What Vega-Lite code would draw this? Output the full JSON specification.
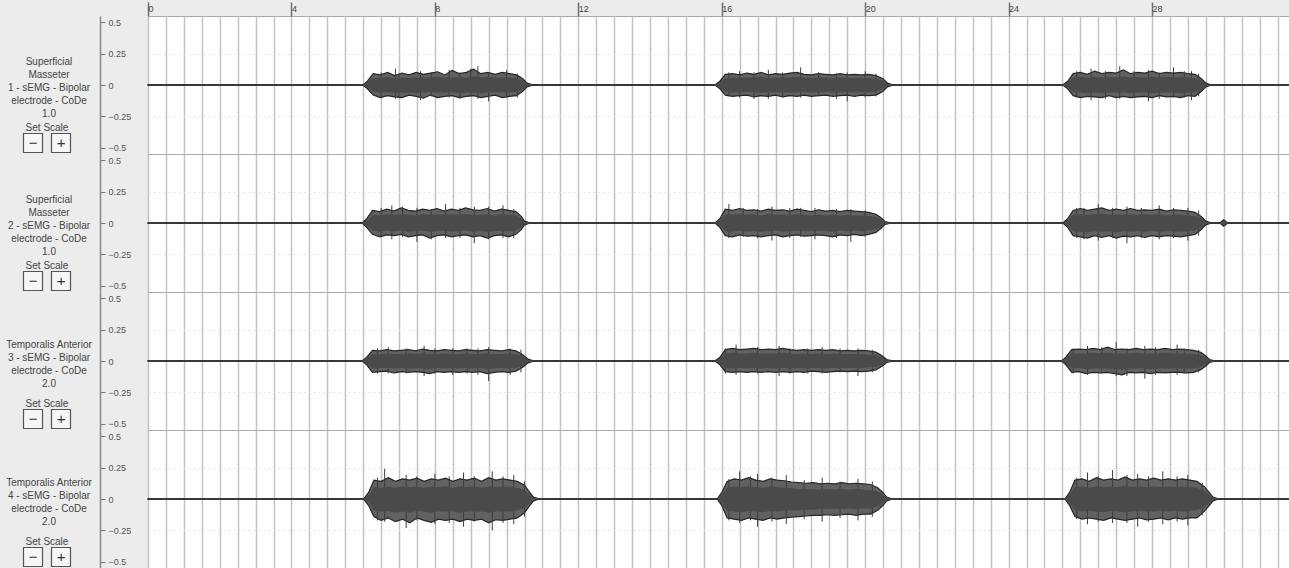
{
"$schema": "https://vega.github.io/schema/vega-lite/v6.json",
"background": "#ececec",
"padding": {"left": 0, "top": 0, "right": 0, "bottom": 0},
"config": {"font": "Liberation Sans", "view": {"stroke": "#a9a9a9", "strokeWidth": 1}},
"datasets": {
"lab": [
{"c":1,"label":"Superficial\nMasseter\n1 - sEMG - Bipolar\nelectrode - CoDe\n1.0"},
{"c":2,"label":"Superficial\nMasseter\n2 - sEMG - Bipolar\nelectrode - CoDe\n1.0"},
{"c":3,"label":"Temporalis Anterior\n3 - sEMG - Bipolar\nelectrode - CoDe\n2.0"},
{"c":4,"label":"Temporalis Anterior\n4 - sEMG - Bipolar\nelectrode - CoDe\n2.0"}
],
"spk": [
{"c":1,"t":6.9,"y":0.13,"y2":-0.11},{"c":1,"t":7.6,"y":0.11,"y2":-0.12},{"c":1,"t":8.4,"y":0.12,"y2":-0.1},{"c":1,"t":9.2,"y":0.15,"y2":-0.11},{"c":1,"t":9.5,"y":0.1,"y2":-0.13},{"c":1,"t":10.0,"y":0.12,"y2":-0.1},
{"c":1,"t":6.5,"y":0.1,"y2":-0.09},{"c":1,"t":7.0,"y":0.09,"y2":-0.1},{"c":1,"t":7.9,"y":0.1,"y2":-0.09},{"c":1,"t":8.7,"y":0.1,"y2":-0.11},{"c":1,"t":9.0,"y":0.13,"y2":-0.09},{"c":1,"t":10.3,"y":0.09,"y2":-0.1},
{"c":1,"t":16.5,"y":0.11,"y2":-0.1},{"c":1,"t":17.3,"y":0.12,"y2":-0.11},{"c":1,"t":18.2,"y":0.14,"y2":-0.1},{"c":1,"t":19.5,"y":0.1,"y2":-0.13},{"c":1,"t":20.0,"y":0.11,"y2":-0.1},
{"c":1,"t":16.2,"y":0.1,"y2":-0.09},{"c":1,"t":16.9,"y":0.1,"y2":-0.11},{"c":1,"t":17.7,"y":0.1,"y2":-0.1},{"c":1,"t":18.7,"y":0.1,"y2":-0.09},{"c":1,"t":19.2,"y":0.09,"y2":-0.11},{"c":1,"t":20.3,"y":0.09,"y2":-0.09},
{"c":1,"t":26.3,"y":0.13,"y2":-0.12},{"c":1,"t":27.1,"y":0.15,"y2":-0.11},{"c":1,"t":27.9,"y":0.12,"y2":-0.13},{"c":1,"t":28.6,"y":0.14,"y2":-0.1},{"c":1,"t":29.1,"y":0.11,"y2":-0.12},
{"c":1,"t":25.9,"y":0.11,"y2":-0.1},{"c":1,"t":26.7,"y":0.11,"y2":-0.11},{"c":1,"t":27.5,"y":0.11,"y2":-0.1},{"c":1,"t":28.2,"y":0.1,"y2":-0.11},{"c":1,"t":28.9,"y":0.11,"y2":-0.1},{"c":1,"t":29.3,"y":0.09,"y2":-0.09},
{"c":2,"t":6.8,"y":0.14,"y2":-0.13},{"c":2,"t":7.5,"y":0.12,"y2":-0.15},{"c":2,"t":8.3,"y":0.15,"y2":-0.12},{"c":2,"t":9.1,"y":0.13,"y2":-0.16},{"c":2,"t":9.9,"y":0.14,"y2":-0.12},
{"c":2,"t":6.5,"y":0.12,"y2":-0.11},{"c":2,"t":7.1,"y":0.13,"y2":-0.11},{"c":2,"t":7.9,"y":0.11,"y2":-0.13},{"c":2,"t":8.7,"y":0.12,"y2":-0.12},{"c":2,"t":9.5,"y":0.13,"y2":-0.13},{"c":2,"t":10.2,"y":0.11,"y2":-0.12},
{"c":2,"t":16.2,"y":0.15,"y2":-0.12},{"c":2,"t":17.4,"y":0.13,"y2":-0.14},{"c":2,"t":18.6,"y":0.12,"y2":-0.13},{"c":2,"t":19.6,"y":0.11,"y2":-0.15},
{"c":2,"t":16.6,"y":0.12,"y2":-0.11},{"c":2,"t":17.0,"y":0.11,"y2":-0.12},{"c":2,"t":17.9,"y":0.12,"y2":-0.12},{"c":2,"t":18.2,"y":0.12,"y2":-0.11},{"c":2,"t":19.2,"y":0.11,"y2":-0.12},{"c":2,"t":20.0,"y":0.1,"y2":-0.11},
{"c":2,"t":26.5,"y":0.15,"y2":-0.14},{"c":2,"t":27.3,"y":0.13,"y2":-0.16},{"c":2,"t":28.2,"y":0.14,"y2":-0.13},{"c":2,"t":29.0,"y":0.12,"y2":-0.14},
{"c":2,"t":25.9,"y":0.12,"y2":-0.12},{"c":2,"t":26.1,"y":0.12,"y2":-0.13},{"c":2,"t":26.9,"y":0.12,"y2":-0.12},{"c":2,"t":27.7,"y":0.12,"y2":-0.12},{"c":2,"t":28.6,"y":0.12,"y2":-0.12},{"c":2,"t":29.3,"y":0.1,"y2":-0.1},
{"c":3,"t":6.7,"y":0.11,"y2":-0.1},{"c":3,"t":7.7,"y":0.12,"y2":-0.12},{"c":3,"t":8.5,"y":0.1,"y2":-0.11},{"c":3,"t":9.5,"y":0.11,"y2":-0.16},{"c":3,"t":10.1,"y":0.1,"y2":-0.11},
{"c":3,"t":6.4,"y":0.1,"y2":-0.1},{"c":3,"t":7.2,"y":0.1,"y2":-0.1},{"c":3,"t":8.0,"y":0.1,"y2":-0.1},{"c":3,"t":8.9,"y":0.1,"y2":-0.1},{"c":3,"t":9.2,"y":0.1,"y2":-0.11},{"c":3,"t":10.4,"y":0.09,"y2":-0.09},
{"c":3,"t":16.4,"y":0.13,"y2":-0.11},{"c":3,"t":17.6,"y":0.12,"y2":-0.12},{"c":3,"t":18.8,"y":0.11,"y2":-0.1},{"c":3,"t":19.8,"y":0.1,"y2":-0.12},
{"c":3,"t":16.1,"y":0.1,"y2":-0.1},{"c":3,"t":17.0,"y":0.11,"y2":-0.1},{"c":3,"t":17.9,"y":0.1,"y2":-0.1},{"c":3,"t":18.4,"y":0.1,"y2":-0.1},{"c":3,"t":19.3,"y":0.1,"y2":-0.09},{"c":3,"t":20.2,"y":0.09,"y2":-0.09},
{"c":3,"t":26.2,"y":0.12,"y2":-0.11},{"c":3,"t":27.0,"y":0.15,"y2":-0.12},{"c":3,"t":27.8,"y":0.12,"y2":-0.14},{"c":3,"t":28.7,"y":0.13,"y2":-0.11},
{"c":3,"t":25.8,"y":0.1,"y2":-0.1},{"c":3,"t":26.6,"y":0.11,"y2":-0.1},{"c":3,"t":27.3,"y":0.1,"y2":-0.12},{"c":3,"t":28.1,"y":0.11,"y2":-0.11},{"c":3,"t":28.9,"y":0.1,"y2":-0.1},{"c":3,"t":29.3,"y":0.09,"y2":-0.09},
{"c":4,"t":6.6,"y":0.24,"y2":-0.18},{"c":4,"t":7.2,"y":0.19,"y2":-0.23},{"c":4,"t":8.0,"y":0.2,"y2":-0.2},{"c":4,"t":8.8,"y":0.21,"y2":-0.22},{"c":4,"t":9.6,"y":0.22,"y2":-0.25},{"c":4,"t":10.2,"y":0.19,"y2":-0.2},
{"c":4,"t":6.4,"y":0.17,"y2":-0.17},{"c":4,"t":7.5,"y":0.18,"y2":-0.17},{"c":4,"t":8.4,"y":0.18,"y2":-0.19},{"c":4,"t":9.1,"y":0.18,"y2":-0.18},{"c":4,"t":9.9,"y":0.18,"y2":-0.19},{"c":4,"t":10.5,"y":0.14,"y2":-0.14},
{"c":4,"t":16.5,"y":0.22,"y2":-0.19},{"c":4,"t":17.0,"y":0.2,"y2":-0.22},{"c":4,"t":17.8,"y":0.19,"y2":-0.2},{"c":4,"t":18.8,"y":0.17,"y2":-0.18},{"c":4,"t":19.8,"y":0.16,"y2":-0.17},
{"c":4,"t":16.2,"y":0.16,"y2":-0.17},{"c":4,"t":16.8,"y":0.18,"y2":-0.17},{"c":4,"t":17.4,"y":0.17,"y2":-0.18},{"c":4,"t":18.3,"y":0.15,"y2":-0.16},{"c":4,"t":19.3,"y":0.14,"y2":-0.15},{"c":4,"t":20.2,"y":0.14,"y2":-0.14},
{"c":4,"t":26.2,"y":0.21,"y2":-0.2},{"c":4,"t":26.9,"y":0.23,"y2":-0.19},{"c":4,"t":27.6,"y":0.2,"y2":-0.22},{"c":4,"t":28.3,"y":0.22,"y2":-0.2},{"c":4,"t":29.0,"y":0.19,"y2":-0.21},
{"c":4,"t":25.9,"y":0.17,"y2":-0.16},{"c":4,"t":26.5,"y":0.18,"y2":-0.18},{"c":4,"t":27.3,"y":0.19,"y2":-0.19},{"c":4,"t":27.9,"y":0.18,"y2":-0.18},{"c":4,"t":28.7,"y":0.18,"y2":-0.18},{"c":4,"t":29.4,"y":0.13,"y2":-0.13}
],
"sig": [
{"c":1,"t":0,"u":0.003,"l":-0.003,"a":0.003,"b":-0.003},
{"c":1,"t":6.0,"u":0.003,"l":-0.003,"a":0.003,"b":-0.003},
{"c":1,"t":6.12,"u":0.03,"l":-0.03,"a":0.02,"b":-0.02},
{"c":1,"t":6.28,"u":0.09,"l":-0.08,"a":0.055,"b":-0.05},
{"c":1,"t":6.48,"u":0.08,"l":-0.1,"a":0.06,"b":-0.06},
{"c":1,"t":6.68,"u":0.1,"l":-0.085,"a":0.065,"b":-0.055},
{"c":1,"t":6.88,"u":0.075,"l":-0.095,"a":0.05,"b":-0.065},
{"c":1,"t":7.08,"u":0.095,"l":-0.1,"a":0.06,"b":-0.06},
{"c":1,"t":7.28,"u":0.08,"l":-0.08,"a":0.055,"b":-0.06},
{"c":1,"t":7.48,"u":0.1,"l":-0.09,"a":0.06,"b":-0.065},
{"c":1,"t":7.68,"u":0.085,"l":-0.105,"a":0.06,"b":-0.06},
{"c":1,"t":7.88,"u":0.095,"l":-0.08,"a":0.06,"b":-0.055},
{"c":1,"t":8.08,"u":0.105,"l":-0.1,"a":0.065,"b":-0.06},
{"c":1,"t":8.28,"u":0.08,"l":-0.09,"a":0.06,"b":-0.06},
{"c":1,"t":8.48,"u":0.115,"l":-0.085,"a":0.06,"b":-0.055},
{"c":1,"t":8.68,"u":0.09,"l":-0.1,"a":0.065,"b":-0.065},
{"c":1,"t":8.88,"u":0.1,"l":-0.09,"a":0.06,"b":-0.06},
{"c":1,"t":9.08,"u":0.125,"l":-0.085,"a":0.07,"b":-0.06},
{"c":1,"t":9.28,"u":0.09,"l":-0.1,"a":0.06,"b":-0.065},
{"c":1,"t":9.48,"u":0.1,"l":-0.09,"a":0.065,"b":-0.06},
{"c":1,"t":9.68,"u":0.085,"l":-0.08,"a":0.06,"b":-0.055},
{"c":1,"t":9.88,"u":0.1,"l":-0.1,"a":0.06,"b":-0.06},
{"c":1,"t":10.08,"u":0.09,"l":-0.09,"a":0.06,"b":-0.06},
{"c":1,"t":10.28,"u":0.08,"l":-0.085,"a":0.055,"b":-0.055},
{"c":1,"t":10.45,"u":0.05,"l":-0.05,"a":0.035,"b":-0.035},
{"c":1,"t":10.57,"u":0.015,"l":-0.015,"a":0.01,"b":-0.01},
{"c":1,"t":10.7,"u":0.003,"l":-0.003,"a":0.003,"b":-0.003},
{"c":1,"t":15.82,"u":0.003,"l":-0.003,"a":0.003,"b":-0.003},
{"c":1,"t":15.95,"u":0.03,"l":-0.03,"a":0.02,"b":-0.02},
{"c":1,"t":16.1,"u":0.085,"l":-0.08,"a":0.055,"b":-0.055},
{"c":1,"t":16.3,"u":0.09,"l":-0.09,"a":0.06,"b":-0.06},
{"c":1,"t":16.5,"u":0.08,"l":-0.085,"a":0.055,"b":-0.06},
{"c":1,"t":16.7,"u":0.095,"l":-0.08,"a":0.06,"b":-0.055},
{"c":1,"t":16.9,"u":0.085,"l":-0.095,"a":0.06,"b":-0.06},
{"c":1,"t":17.1,"u":0.1,"l":-0.085,"a":0.065,"b":-0.06},
{"c":1,"t":17.3,"u":0.08,"l":-0.09,"a":0.055,"b":-0.06},
{"c":1,"t":17.5,"u":0.09,"l":-0.08,"a":0.06,"b":-0.055},
{"c":1,"t":17.7,"u":0.085,"l":-0.095,"a":0.06,"b":-0.06},
{"c":1,"t":17.9,"u":0.095,"l":-0.085,"a":0.06,"b":-0.06},
{"c":1,"t":18.1,"u":0.1,"l":-0.09,"a":0.065,"b":-0.06},
{"c":1,"t":18.3,"u":0.085,"l":-0.08,"a":0.06,"b":-0.055},
{"c":1,"t":18.5,"u":0.08,"l":-0.09,"a":0.055,"b":-0.06},
{"c":1,"t":18.7,"u":0.09,"l":-0.085,"a":0.06,"b":-0.06},
{"c":1,"t":18.9,"u":0.085,"l":-0.08,"a":0.06,"b":-0.055},
{"c":1,"t":19.1,"u":0.08,"l":-0.09,"a":0.055,"b":-0.06},
{"c":1,"t":19.3,"u":0.09,"l":-0.085,"a":0.06,"b":-0.06},
{"c":1,"t":19.5,"u":0.08,"l":-0.08,"a":0.055,"b":-0.055},
{"c":1,"t":19.7,"u":0.085,"l":-0.09,"a":0.06,"b":-0.06},
{"c":1,"t":19.9,"u":0.08,"l":-0.08,"a":0.055,"b":-0.055},
{"c":1,"t":20.1,"u":0.085,"l":-0.085,"a":0.055,"b":-0.06},
{"c":1,"t":20.3,"u":0.075,"l":-0.08,"a":0.05,"b":-0.05},
{"c":1,"t":20.5,"u":0.05,"l":-0.05,"a":0.035,"b":-0.035},
{"c":1,"t":20.62,"u":0.015,"l":-0.015,"a":0.01,"b":-0.01},
{"c":1,"t":20.75,"u":0.003,"l":-0.003,"a":0.003,"b":-0.003},
{"c":1,"t":25.52,"u":0.003,"l":-0.003,"a":0.003,"b":-0.003},
{"c":1,"t":25.65,"u":0.03,"l":-0.03,"a":0.02,"b":-0.02},
{"c":1,"t":25.8,"u":0.09,"l":-0.085,"a":0.06,"b":-0.055},
{"c":1,"t":26.0,"u":0.1,"l":-0.1,"a":0.065,"b":-0.06},
{"c":1,"t":26.2,"u":0.085,"l":-0.09,"a":0.06,"b":-0.065},
{"c":1,"t":26.4,"u":0.11,"l":-0.095,"a":0.065,"b":-0.06},
{"c":1,"t":26.6,"u":0.09,"l":-0.1,"a":0.06,"b":-0.065},
{"c":1,"t":26.8,"u":0.1,"l":-0.085,"a":0.065,"b":-0.06},
{"c":1,"t":27.0,"u":0.095,"l":-0.1,"a":0.06,"b":-0.06},
{"c":1,"t":27.2,"u":0.12,"l":-0.09,"a":0.07,"b":-0.06},
{"c":1,"t":27.4,"u":0.09,"l":-0.1,"a":0.06,"b":-0.065},
{"c":1,"t":27.6,"u":0.1,"l":-0.095,"a":0.065,"b":-0.06},
{"c":1,"t":27.8,"u":0.095,"l":-0.09,"a":0.06,"b":-0.06},
{"c":1,"t":28.0,"u":0.11,"l":-0.1,"a":0.065,"b":-0.065},
{"c":1,"t":28.2,"u":0.09,"l":-0.085,"a":0.06,"b":-0.06},
{"c":1,"t":28.4,"u":0.1,"l":-0.095,"a":0.065,"b":-0.06},
{"c":1,"t":28.6,"u":0.095,"l":-0.09,"a":0.06,"b":-0.06},
{"c":1,"t":28.8,"u":0.1,"l":-0.1,"a":0.065,"b":-0.065},
{"c":1,"t":29.0,"u":0.09,"l":-0.085,"a":0.06,"b":-0.06},
{"c":1,"t":29.2,"u":0.085,"l":-0.09,"a":0.055,"b":-0.06},
{"c":1,"t":29.38,"u":0.05,"l":-0.05,"a":0.035,"b":-0.035},
{"c":1,"t":29.5,"u":0.015,"l":-0.015,"a":0.01,"b":-0.01},
{"c":1,"t":29.62,"u":0.003,"l":-0.003,"a":0.003,"b":-0.003},
{"c":1,"t":31.82,"u":0.003,"l":-0.003,"a":0.003,"b":-0.003},
{"c":2,"t":0,"u":0.003,"l":-0.003,"a":0.003,"b":-0.003},
{"c":2,"t":5.98,"u":0.003,"l":-0.003,"a":0.003,"b":-0.003},
{"c":2,"t":6.1,"u":0.035,"l":-0.035,"a":0.022,"b":-0.022},
{"c":2,"t":6.26,"u":0.1,"l":-0.09,"a":0.065,"b":-0.06},
{"c":2,"t":6.46,"u":0.09,"l":-0.11,"a":0.06,"b":-0.07},
{"c":2,"t":6.66,"u":0.11,"l":-0.095,"a":0.07,"b":-0.06},
{"c":2,"t":6.86,"u":0.095,"l":-0.1,"a":0.065,"b":-0.065},
{"c":2,"t":7.06,"u":0.12,"l":-0.09,"a":0.07,"b":-0.06},
{"c":2,"t":7.26,"u":0.1,"l":-0.11,"a":0.065,"b":-0.07},
{"c":2,"t":7.46,"u":0.095,"l":-0.1,"a":0.06,"b":-0.065},
{"c":2,"t":7.66,"u":0.11,"l":-0.095,"a":0.07,"b":-0.06},
{"c":2,"t":7.86,"u":0.1,"l":-0.12,"a":0.065,"b":-0.07},
{"c":2,"t":8.06,"u":0.115,"l":-0.1,"a":0.07,"b":-0.065},
{"c":2,"t":8.26,"u":0.095,"l":-0.095,"a":0.065,"b":-0.06},
{"c":2,"t":8.46,"u":0.11,"l":-0.11,"a":0.07,"b":-0.07},
{"c":2,"t":8.66,"u":0.1,"l":-0.1,"a":0.065,"b":-0.065},
{"c":2,"t":8.86,"u":0.12,"l":-0.095,"a":0.07,"b":-0.06},
{"c":2,"t":9.06,"u":0.105,"l":-0.11,"a":0.065,"b":-0.07},
{"c":2,"t":9.26,"u":0.1,"l":-0.1,"a":0.065,"b":-0.065},
{"c":2,"t":9.46,"u":0.115,"l":-0.12,"a":0.07,"b":-0.07},
{"c":2,"t":9.66,"u":0.095,"l":-0.1,"a":0.06,"b":-0.065},
{"c":2,"t":9.86,"u":0.11,"l":-0.095,"a":0.07,"b":-0.06},
{"c":2,"t":10.06,"u":0.1,"l":-0.11,"a":0.065,"b":-0.065},
{"c":2,"t":10.26,"u":0.09,"l":-0.09,"a":0.06,"b":-0.06},
{"c":2,"t":10.4,"u":0.055,"l":-0.055,"a":0.035,"b":-0.035},
{"c":2,"t":10.5,"u":0.015,"l":-0.015,"a":0.01,"b":-0.01},
{"c":2,"t":10.62,"u":0.003,"l":-0.003,"a":0.003,"b":-0.003},
{"c":2,"t":15.82,"u":0.003,"l":-0.003,"a":0.003,"b":-0.003},
{"c":2,"t":15.95,"u":0.035,"l":-0.035,"a":0.022,"b":-0.022},
{"c":2,"t":16.1,"u":0.11,"l":-0.1,"a":0.07,"b":-0.065},
{"c":2,"t":16.3,"u":0.1,"l":-0.11,"a":0.065,"b":-0.07},
{"c":2,"t":16.5,"u":0.115,"l":-0.095,"a":0.07,"b":-0.06},
{"c":2,"t":16.7,"u":0.1,"l":-0.105,"a":0.065,"b":-0.07},
{"c":2,"t":16.9,"u":0.105,"l":-0.1,"a":0.07,"b":-0.065},
{"c":2,"t":17.1,"u":0.095,"l":-0.11,"a":0.06,"b":-0.07},
{"c":2,"t":17.3,"u":0.11,"l":-0.1,"a":0.07,"b":-0.065},
{"c":2,"t":17.5,"u":0.1,"l":-0.095,"a":0.065,"b":-0.06},
{"c":2,"t":17.7,"u":0.105,"l":-0.11,"a":0.065,"b":-0.07},
{"c":2,"t":17.9,"u":0.095,"l":-0.1,"a":0.06,"b":-0.065},
{"c":2,"t":18.1,"u":0.11,"l":-0.095,"a":0.07,"b":-0.06},
{"c":2,"t":18.3,"u":0.1,"l":-0.105,"a":0.065,"b":-0.065},
{"c":2,"t":18.5,"u":0.09,"l":-0.1,"a":0.06,"b":-0.065},
{"c":2,"t":18.7,"u":0.105,"l":-0.095,"a":0.065,"b":-0.06},
{"c":2,"t":18.9,"u":0.095,"l":-0.1,"a":0.06,"b":-0.065},
{"c":2,"t":19.1,"u":0.1,"l":-0.11,"a":0.065,"b":-0.07},
{"c":2,"t":19.3,"u":0.09,"l":-0.095,"a":0.06,"b":-0.06},
{"c":2,"t":19.5,"u":0.1,"l":-0.1,"a":0.065,"b":-0.065},
{"c":2,"t":19.7,"u":0.095,"l":-0.09,"a":0.06,"b":-0.06},
{"c":2,"t":19.9,"u":0.09,"l":-0.1,"a":0.06,"b":-0.065},
{"c":2,"t":20.1,"u":0.085,"l":-0.09,"a":0.055,"b":-0.06},
{"c":2,"t":20.3,"u":0.07,"l":-0.075,"a":0.05,"b":-0.05},
{"c":2,"t":20.45,"u":0.04,"l":-0.04,"a":0.03,"b":-0.03},
{"c":2,"t":20.55,"u":0.012,"l":-0.012,"a":0.01,"b":-0.01},
{"c":2,"t":20.68,"u":0.003,"l":-0.003,"a":0.003,"b":-0.003},
{"c":2,"t":25.52,"u":0.003,"l":-0.003,"a":0.003,"b":-0.003},
{"c":2,"t":25.65,"u":0.035,"l":-0.035,"a":0.022,"b":-0.022},
{"c":2,"t":25.8,"u":0.1,"l":-0.1,"a":0.065,"b":-0.065},
{"c":2,"t":26.0,"u":0.115,"l":-0.11,"a":0.07,"b":-0.07},
{"c":2,"t":26.2,"u":0.1,"l":-0.12,"a":0.065,"b":-0.075},
{"c":2,"t":26.4,"u":0.11,"l":-0.1,"a":0.07,"b":-0.065},
{"c":2,"t":26.6,"u":0.12,"l":-0.115,"a":0.075,"b":-0.07},
{"c":2,"t":26.8,"u":0.1,"l":-0.1,"a":0.065,"b":-0.065},
{"c":2,"t":27.0,"u":0.11,"l":-0.12,"a":0.07,"b":-0.075},
{"c":2,"t":27.2,"u":0.1,"l":-0.105,"a":0.065,"b":-0.065},
{"c":2,"t":27.4,"u":0.115,"l":-0.11,"a":0.07,"b":-0.07},
{"c":2,"t":27.6,"u":0.1,"l":-0.1,"a":0.065,"b":-0.065},
{"c":2,"t":27.8,"u":0.105,"l":-0.115,"a":0.07,"b":-0.07},
{"c":2,"t":28.0,"u":0.1,"l":-0.1,"a":0.065,"b":-0.065},
{"c":2,"t":28.2,"u":0.11,"l":-0.11,"a":0.07,"b":-0.07},
{"c":2,"t":28.4,"u":0.095,"l":-0.1,"a":0.06,"b":-0.065},
{"c":2,"t":28.6,"u":0.105,"l":-0.105,"a":0.065,"b":-0.065},
{"c":2,"t":28.8,"u":0.1,"l":-0.11,"a":0.065,"b":-0.07},
{"c":2,"t":29.0,"u":0.095,"l":-0.1,"a":0.06,"b":-0.065},
{"c":2,"t":29.2,"u":0.085,"l":-0.09,"a":0.055,"b":-0.06},
{"c":2,"t":29.38,"u":0.05,"l":-0.05,"a":0.035,"b":-0.035},
{"c":2,"t":29.5,"u":0.015,"l":-0.015,"a":0.01,"b":-0.01},
{"c":2,"t":29.62,"u":0.003,"l":-0.003,"a":0.003,"b":-0.003},
{"c":2,"t":29.9,"u":0.003,"l":-0.003,"a":0.003,"b":-0.003},
{"c":2,"t":30.0,"u":0.025,"l":-0.025,"a":0.015,"b":-0.015},
{"c":2,"t":30.1,"u":0.003,"l":-0.003,"a":0.003,"b":-0.003},
{"c":2,"t":31.82,"u":0.003,"l":-0.003,"a":0.003,"b":-0.003},
{"c":3,"t":0,"u":0.003,"l":-0.003,"a":0.003,"b":-0.003},
{"c":3,"t":5.98,"u":0.003,"l":-0.003,"a":0.003,"b":-0.003},
{"c":3,"t":6.1,"u":0.03,"l":-0.03,"a":0.02,"b":-0.02},
{"c":3,"t":6.26,"u":0.085,"l":-0.09,"a":0.055,"b":-0.06},
{"c":3,"t":6.46,"u":0.08,"l":-0.085,"a":0.055,"b":-0.055},
{"c":3,"t":6.66,"u":0.09,"l":-0.08,"a":0.06,"b":-0.055},
{"c":3,"t":6.86,"u":0.08,"l":-0.095,"a":0.055,"b":-0.06},
{"c":3,"t":7.06,"u":0.085,"l":-0.085,"a":0.055,"b":-0.055},
{"c":3,"t":7.26,"u":0.09,"l":-0.09,"a":0.06,"b":-0.06},
{"c":3,"t":7.46,"u":0.08,"l":-0.085,"a":0.055,"b":-0.055},
{"c":3,"t":7.66,"u":0.095,"l":-0.09,"a":0.06,"b":-0.06},
{"c":3,"t":7.86,"u":0.085,"l":-0.1,"a":0.055,"b":-0.065},
{"c":3,"t":8.06,"u":0.08,"l":-0.085,"a":0.055,"b":-0.055},
{"c":3,"t":8.26,"u":0.09,"l":-0.09,"a":0.06,"b":-0.06},
{"c":3,"t":8.46,"u":0.085,"l":-0.085,"a":0.055,"b":-0.055},
{"c":3,"t":8.66,"u":0.08,"l":-0.09,"a":0.055,"b":-0.06},
{"c":3,"t":8.86,"u":0.09,"l":-0.085,"a":0.06,"b":-0.055},
{"c":3,"t":9.06,"u":0.085,"l":-0.09,"a":0.055,"b":-0.06},
{"c":3,"t":9.26,"u":0.08,"l":-0.085,"a":0.055,"b":-0.055},
{"c":3,"t":9.46,"u":0.09,"l":-0.1,"a":0.06,"b":-0.065},
{"c":3,"t":9.66,"u":0.085,"l":-0.09,"a":0.055,"b":-0.06},
{"c":3,"t":9.86,"u":0.08,"l":-0.085,"a":0.055,"b":-0.055},
{"c":3,"t":10.06,"u":0.09,"l":-0.09,"a":0.06,"b":-0.06},
{"c":3,"t":10.26,"u":0.08,"l":-0.08,"a":0.055,"b":-0.055},
{"c":3,"t":10.45,"u":0.05,"l":-0.05,"a":0.035,"b":-0.035},
{"c":3,"t":10.6,"u":0.015,"l":-0.015,"a":0.01,"b":-0.01},
{"c":3,"t":10.72,"u":0.003,"l":-0.003,"a":0.003,"b":-0.003},
{"c":3,"t":15.82,"u":0.003,"l":-0.003,"a":0.003,"b":-0.003},
{"c":3,"t":15.95,"u":0.03,"l":-0.03,"a":0.02,"b":-0.02},
{"c":3,"t":16.1,"u":0.09,"l":-0.085,"a":0.06,"b":-0.055},
{"c":3,"t":16.3,"u":0.1,"l":-0.09,"a":0.065,"b":-0.06},
{"c":3,"t":16.5,"u":0.09,"l":-0.085,"a":0.06,"b":-0.055},
{"c":3,"t":16.7,"u":0.095,"l":-0.09,"a":0.06,"b":-0.06},
{"c":3,"t":16.9,"u":0.1,"l":-0.085,"a":0.065,"b":-0.055},
{"c":3,"t":17.1,"u":0.09,"l":-0.09,"a":0.06,"b":-0.06},
{"c":3,"t":17.3,"u":0.095,"l":-0.085,"a":0.06,"b":-0.055},
{"c":3,"t":17.5,"u":0.09,"l":-0.09,"a":0.06,"b":-0.06},
{"c":3,"t":17.7,"u":0.1,"l":-0.085,"a":0.065,"b":-0.055},
{"c":3,"t":17.9,"u":0.09,"l":-0.09,"a":0.06,"b":-0.06},
{"c":3,"t":18.1,"u":0.085,"l":-0.085,"a":0.055,"b":-0.055},
{"c":3,"t":18.3,"u":0.09,"l":-0.09,"a":0.06,"b":-0.06},
{"c":3,"t":18.5,"u":0.085,"l":-0.08,"a":0.055,"b":-0.055},
{"c":3,"t":18.7,"u":0.09,"l":-0.085,"a":0.06,"b":-0.055},
{"c":3,"t":18.9,"u":0.085,"l":-0.09,"a":0.055,"b":-0.06},
{"c":3,"t":19.1,"u":0.09,"l":-0.085,"a":0.06,"b":-0.055},
{"c":3,"t":19.3,"u":0.08,"l":-0.08,"a":0.055,"b":-0.055},
{"c":3,"t":19.5,"u":0.085,"l":-0.085,"a":0.055,"b":-0.055},
{"c":3,"t":19.7,"u":0.08,"l":-0.08,"a":0.055,"b":-0.055},
{"c":3,"t":19.9,"u":0.085,"l":-0.085,"a":0.055,"b":-0.055},
{"c":3,"t":20.1,"u":0.08,"l":-0.08,"a":0.05,"b":-0.05},
{"c":3,"t":20.3,"u":0.07,"l":-0.07,"a":0.045,"b":-0.045},
{"c":3,"t":20.48,"u":0.04,"l":-0.04,"a":0.03,"b":-0.03},
{"c":3,"t":20.6,"u":0.012,"l":-0.012,"a":0.01,"b":-0.01},
{"c":3,"t":20.72,"u":0.003,"l":-0.003,"a":0.003,"b":-0.003},
{"c":3,"t":25.48,"u":0.003,"l":-0.003,"a":0.003,"b":-0.003},
{"c":3,"t":25.6,"u":0.03,"l":-0.03,"a":0.02,"b":-0.02},
{"c":3,"t":25.76,"u":0.09,"l":-0.09,"a":0.06,"b":-0.06},
{"c":3,"t":25.96,"u":0.095,"l":-0.085,"a":0.06,"b":-0.055},
{"c":3,"t":26.16,"u":0.09,"l":-0.1,"a":0.06,"b":-0.065},
{"c":3,"t":26.36,"u":0.1,"l":-0.09,"a":0.065,"b":-0.06},
{"c":3,"t":26.56,"u":0.09,"l":-0.095,"a":0.06,"b":-0.06},
{"c":3,"t":26.76,"u":0.11,"l":-0.09,"a":0.065,"b":-0.06},
{"c":3,"t":26.96,"u":0.09,"l":-0.1,"a":0.06,"b":-0.065},
{"c":3,"t":27.16,"u":0.095,"l":-0.11,"a":0.06,"b":-0.07},
{"c":3,"t":27.36,"u":0.09,"l":-0.09,"a":0.06,"b":-0.06},
{"c":3,"t":27.56,"u":0.1,"l":-0.095,"a":0.065,"b":-0.06},
{"c":3,"t":27.76,"u":0.09,"l":-0.09,"a":0.06,"b":-0.06},
{"c":3,"t":27.96,"u":0.095,"l":-0.1,"a":0.06,"b":-0.065},
{"c":3,"t":28.16,"u":0.09,"l":-0.09,"a":0.06,"b":-0.06},
{"c":3,"t":28.36,"u":0.1,"l":-0.095,"a":0.065,"b":-0.06},
{"c":3,"t":28.56,"u":0.09,"l":-0.09,"a":0.06,"b":-0.06},
{"c":3,"t":28.76,"u":0.095,"l":-0.09,"a":0.06,"b":-0.06},
{"c":3,"t":28.96,"u":0.09,"l":-0.095,"a":0.06,"b":-0.06},
{"c":3,"t":29.16,"u":0.085,"l":-0.09,"a":0.055,"b":-0.06},
{"c":3,"t":29.36,"u":0.07,"l":-0.07,"a":0.045,"b":-0.045},
{"c":3,"t":29.5,"u":0.04,"l":-0.04,"a":0.03,"b":-0.03},
{"c":3,"t":29.6,"u":0.012,"l":-0.012,"a":0.01,"b":-0.01},
{"c":3,"t":29.72,"u":0.003,"l":-0.003,"a":0.003,"b":-0.003},
{"c":3,"t":31.82,"u":0.003,"l":-0.003,"a":0.003,"b":-0.003},
{"c":4,"t":0,"u":0.003,"l":-0.003,"a":0.003,"b":-0.003},
{"c":4,"t":6.02,"u":0.003,"l":-0.003,"a":0.003,"b":-0.003},
{"c":4,"t":6.15,"u":0.05,"l":-0.05,"a":0.03,"b":-0.03},
{"c":4,"t":6.3,"u":0.15,"l":-0.14,"a":0.095,"b":-0.09},
{"c":4,"t":6.5,"u":0.14,"l":-0.17,"a":0.09,"b":-0.1},
{"c":4,"t":6.7,"u":0.17,"l":-0.15,"a":0.1,"b":-0.095},
{"c":4,"t":6.9,"u":0.14,"l":-0.18,"a":0.09,"b":-0.11},
{"c":4,"t":7.1,"u":0.16,"l":-0.16,"a":0.1,"b":-0.1},
{"c":4,"t":7.3,"u":0.15,"l":-0.19,"a":0.095,"b":-0.11},
{"c":4,"t":7.5,"u":0.165,"l":-0.15,"a":0.1,"b":-0.095},
{"c":4,"t":7.7,"u":0.14,"l":-0.17,"a":0.09,"b":-0.1},
{"c":4,"t":7.9,"u":0.16,"l":-0.185,"a":0.1,"b":-0.11},
{"c":4,"t":8.1,"u":0.15,"l":-0.16,"a":0.095,"b":-0.1},
{"c":4,"t":8.3,"u":0.165,"l":-0.17,"a":0.1,"b":-0.1},
{"c":4,"t":8.5,"u":0.14,"l":-0.16,"a":0.09,"b":-0.1},
{"c":4,"t":8.7,"u":0.16,"l":-0.18,"a":0.1,"b":-0.11},
{"c":4,"t":8.9,"u":0.15,"l":-0.16,"a":0.095,"b":-0.1},
{"c":4,"t":9.1,"u":0.165,"l":-0.17,"a":0.1,"b":-0.1},
{"c":4,"t":9.3,"u":0.14,"l":-0.16,"a":0.09,"b":-0.1},
{"c":4,"t":9.5,"u":0.17,"l":-0.19,"a":0.1,"b":-0.11},
{"c":4,"t":9.7,"u":0.15,"l":-0.165,"a":0.095,"b":-0.1},
{"c":4,"t":9.9,"u":0.16,"l":-0.17,"a":0.1,"b":-0.1},
{"c":4,"t":10.1,"u":0.15,"l":-0.16,"a":0.095,"b":-0.1},
{"c":4,"t":10.3,"u":0.14,"l":-0.15,"a":0.09,"b":-0.09},
{"c":4,"t":10.5,"u":0.11,"l":-0.11,"a":0.07,"b":-0.07},
{"c":4,"t":10.65,"u":0.05,"l":-0.05,"a":0.035,"b":-0.035},
{"c":4,"t":10.75,"u":0.015,"l":-0.015,"a":0.01,"b":-0.01},
{"c":4,"t":10.88,"u":0.003,"l":-0.003,"a":0.003,"b":-0.003},
{"c":4,"t":15.88,"u":0.003,"l":-0.003,"a":0.003,"b":-0.003},
{"c":4,"t":16.0,"u":0.05,"l":-0.05,"a":0.03,"b":-0.03},
{"c":4,"t":16.15,"u":0.14,"l":-0.15,"a":0.09,"b":-0.095},
{"c":4,"t":16.35,"u":0.16,"l":-0.16,"a":0.1,"b":-0.1},
{"c":4,"t":16.55,"u":0.15,"l":-0.17,"a":0.095,"b":-0.105},
{"c":4,"t":16.75,"u":0.17,"l":-0.15,"a":0.1,"b":-0.095},
{"c":4,"t":16.95,"u":0.15,"l":-0.16,"a":0.095,"b":-0.1},
{"c":4,"t":17.15,"u":0.14,"l":-0.17,"a":0.09,"b":-0.105},
{"c":4,"t":17.35,"u":0.16,"l":-0.15,"a":0.1,"b":-0.095},
{"c":4,"t":17.55,"u":0.15,"l":-0.16,"a":0.095,"b":-0.1},
{"c":4,"t":17.75,"u":0.145,"l":-0.15,"a":0.09,"b":-0.095},
{"c":4,"t":17.95,"u":0.135,"l":-0.145,"a":0.085,"b":-0.09},
{"c":4,"t":18.15,"u":0.13,"l":-0.14,"a":0.08,"b":-0.09},
{"c":4,"t":18.35,"u":0.125,"l":-0.135,"a":0.08,"b":-0.085},
{"c":4,"t":18.55,"u":0.13,"l":-0.13,"a":0.08,"b":-0.085},
{"c":4,"t":18.75,"u":0.12,"l":-0.13,"a":0.075,"b":-0.08},
{"c":4,"t":18.95,"u":0.125,"l":-0.125,"a":0.08,"b":-0.08},
{"c":4,"t":19.15,"u":0.12,"l":-0.13,"a":0.075,"b":-0.08},
{"c":4,"t":19.35,"u":0.13,"l":-0.125,"a":0.08,"b":-0.08},
{"c":4,"t":19.55,"u":0.12,"l":-0.12,"a":0.075,"b":-0.075},
{"c":4,"t":19.75,"u":0.125,"l":-0.13,"a":0.08,"b":-0.08},
{"c":4,"t":19.95,"u":0.12,"l":-0.12,"a":0.075,"b":-0.075},
{"c":4,"t":20.15,"u":0.115,"l":-0.12,"a":0.07,"b":-0.075},
{"c":4,"t":20.35,"u":0.09,"l":-0.09,"a":0.06,"b":-0.06},
{"c":4,"t":20.5,"u":0.05,"l":-0.05,"a":0.035,"b":-0.035},
{"c":4,"t":20.6,"u":0.015,"l":-0.015,"a":0.01,"b":-0.01},
{"c":4,"t":20.72,"u":0.003,"l":-0.003,"a":0.003,"b":-0.003},
{"c":4,"t":25.58,"u":0.003,"l":-0.003,"a":0.003,"b":-0.003},
{"c":4,"t":25.7,"u":0.05,"l":-0.05,"a":0.03,"b":-0.03},
{"c":4,"t":25.85,"u":0.15,"l":-0.14,"a":0.095,"b":-0.09},
{"c":4,"t":26.05,"u":0.16,"l":-0.16,"a":0.1,"b":-0.1},
{"c":4,"t":26.25,"u":0.14,"l":-0.15,"a":0.09,"b":-0.095},
{"c":4,"t":26.45,"u":0.17,"l":-0.16,"a":0.1,"b":-0.1},
{"c":4,"t":26.65,"u":0.15,"l":-0.17,"a":0.095,"b":-0.105},
{"c":4,"t":26.85,"u":0.16,"l":-0.15,"a":0.1,"b":-0.095},
{"c":4,"t":27.05,"u":0.15,"l":-0.16,"a":0.095,"b":-0.1},
{"c":4,"t":27.25,"u":0.175,"l":-0.17,"a":0.105,"b":-0.105},
{"c":4,"t":27.45,"u":0.15,"l":-0.16,"a":0.095,"b":-0.1},
{"c":4,"t":27.65,"u":0.16,"l":-0.15,"a":0.1,"b":-0.095},
{"c":4,"t":27.85,"u":0.15,"l":-0.165,"a":0.095,"b":-0.1},
{"c":4,"t":28.05,"u":0.165,"l":-0.16,"a":0.1,"b":-0.1},
{"c":4,"t":28.25,"u":0.15,"l":-0.15,"a":0.095,"b":-0.095},
{"c":4,"t":28.45,"u":0.16,"l":-0.165,"a":0.1,"b":-0.1},
{"c":4,"t":28.65,"u":0.15,"l":-0.15,"a":0.095,"b":-0.095},
{"c":4,"t":28.85,"u":0.16,"l":-0.16,"a":0.1,"b":-0.1},
{"c":4,"t":29.05,"u":0.15,"l":-0.15,"a":0.095,"b":-0.095},
{"c":4,"t":29.25,"u":0.14,"l":-0.15,"a":0.09,"b":-0.09},
{"c":4,"t":29.45,"u":0.1,"l":-0.1,"a":0.065,"b":-0.065},
{"c":4,"t":29.6,"u":0.05,"l":-0.05,"a":0.035,"b":-0.035},
{"c":4,"t":29.7,"u":0.015,"l":-0.015,"a":0.01,"b":-0.01},
{"c":4,"t":29.82,"u":0.003,"l":-0.003,"a":0.003,"b":-0.003},
{"c":4,"t":31.82,"u":0.003,"l":-0.003,"a":0.003,"b":-0.003}
]
},
"columns": 2,
"bounds": "flush",
"spacing": {"row": 0, "column": 48},
"concat": [
 {"width": 100, "height": 138, "data": {"name": "lab"}, "transform": [{"filter": "datum.c == 1"}],
  "layer": [
   {"mark": {"type": "text", "lineBreak": "\n", "fontSize": 10, "lineHeight": 13, "color": "#444", "align": "center", "baseline": "middle", "dx": -1, "dy": -23}, "encoding": {"text": {"field": "label"}}},
   {"mark": {"type": "text", "text": "Set Scale", "fontSize": 10, "color": "#444", "align": "center", "baseline": "middle", "dx": -3, "dy": 43}, "encoding": {}},
   {"mark": {"type": "point", "shape": "square", "size": 361, "filled": true, "fill": "#f6f6f6", "stroke": "#555", "strokeWidth": 1.2, "opacity": 1, "xOffset": -17, "yOffset": 58}, "encoding": {}},
   {"mark": {"type": "point", "shape": "square", "size": 361, "filled": true, "fill": "#f6f6f6", "stroke": "#555", "strokeWidth": 1.2, "opacity": 1, "xOffset": 11, "yOffset": 58}, "encoding": {}},
   {"mark": {"type": "text", "text": "−", "fontSize": 15, "color": "#333", "align": "center", "baseline": "middle", "dx": -17, "dy": 58}, "encoding": {}},
   {"mark": {"type": "text", "text": "+", "fontSize": 15, "color": "#333", "align": "center", "baseline": "middle", "dx": 11, "dy": 58}, "encoding": {}}
  ]},
 {"width": 1141, "height": 138, "view": {"fill": "white", "stroke": "#a9a9a9"},
  "layer": [
   {"data": {"name": "sig"}, "transform": [{"filter": "datum.c == 1"}], "mark": {"type": "area", "color": "#616161", "stroke": "#262626", "strokeWidth": 1.2},
    "encoding": {
     "x": {"field": "t", "type": "quantitative", "title": null, "scale": {"domain": [0, 31.82], "nice": false, "zero": false},
       "axis": {"orient": "top", "title": null, "tickCount": 200, "values": [0,0.5,1,1.5,2,2.5,3,3.5,4,4.5,5,5.5,6,6.5,7,7.5,8,8.5,9,9.5,10,10.5,11,11.5,12,12.5,13,13.5,14,14.5,15,15.5,16,16.5,17,17.5,18,18.5,19,19.5,20,20.5,21,21.5,22,22.5,23,23.5,24,24.5,25,25.5,26,26.5,27,27.5,28,28.5,29,29.5,30,30.5,31,31.5],
         "format": "~g", "grid": true, "gridColor": "#c2c2c2", "gridWidth": 1.5, "domain": false, "ticks": true, "tickSize": 14, "tickWidth": 1.5,
         "tickColor": {"condition": {"test": "datum.value % 4 == 0", "value": "#707070"}, "value": "transparent"},
         "labelExpr": "datum.value % 4 == 0 ? datum.label : ''", "labelAlign": "left", "labelBaseline": "middle", "labelPadding": -6, "labelDx": 3,
         "labelFontSize": 9, "labelColor": "#444", "labelFlush": false, "labelOverlap": false}},
     "y": {"field": "u", "type": "quantitative", "title": null, "scale": {"domain": [-0.548, 0.548], "nice": false, "zero": false},
       "axis": {"orient": "left", "offset": 48, "title": null, "tickCount": 20, "values": [-0.5, -0.25, 0, 0.25, 0.5], "format": "~g", "domain": true, "domainColor": "#8a8a8a", "domainWidth": 1.5,
         "ticks": true, "tickSize": -5, "tickColor": "#777", "labelAlign": "left", "labelBaseline": "middle", "labelPadding": -3, "labelFontSize": 9, "labelColor": "#555", "labelOverlap": false, "labelFlush": false,
         "grid": true, "gridColor": {"condition": {"test": "abs(datum.value) == 0.25", "value": "#e2e2e2"}, "value": "transparent"}, "gridDash": [2, 3]}},
     "y2": {"field": "l"}
    }},
   {"data": {"name": "spk"}, "transform": [{"filter": "datum.c == 1"}], "mark": {"type": "rule", "color": "#3c3c3c", "strokeWidth": 1},
    "encoding": {"x": {"field": "t", "type": "quantitative", "title": null}, "y": {"field": "y", "type": "quantitative", "title": null}, "y2": {"field": "y2"}}},
   {"data": {"name": "sig"}, "transform": [{"filter": "datum.c == 1"}], "mark": {"type": "area", "color": "#4a4a4a"},
    "encoding": {"x": {"field": "t", "type": "quantitative", "title": null}, "y": {"field": "a", "type": "quantitative", "title": null}, "y2": {"field": "b"}}}
  ]},
 {"width": 100, "height": 138, "data": {"name": "lab"}, "transform": [{"filter": "datum.c == 2"}],
  "layer": [
   {"mark": {"type": "text", "lineBreak": "\n", "fontSize": 10, "lineHeight": 13, "color": "#444", "align": "center", "baseline": "middle", "dx": -1, "dy": -23}, "encoding": {"text": {"field": "label"}}},
   {"mark": {"type": "text", "text": "Set Scale", "fontSize": 10, "color": "#444", "align": "center", "baseline": "middle", "dx": -3, "dy": 43}, "encoding": {}},
   {"mark": {"type": "point", "shape": "square", "size": 361, "filled": true, "fill": "#f6f6f6", "stroke": "#555", "strokeWidth": 1.2, "opacity": 1, "xOffset": -17, "yOffset": 58}, "encoding": {}},
   {"mark": {"type": "point", "shape": "square", "size": 361, "filled": true, "fill": "#f6f6f6", "stroke": "#555", "strokeWidth": 1.2, "opacity": 1, "xOffset": 11, "yOffset": 58}, "encoding": {}},
   {"mark": {"type": "text", "text": "−", "fontSize": 15, "color": "#333", "align": "center", "baseline": "middle", "dx": -17, "dy": 58}, "encoding": {}},
   {"mark": {"type": "text", "text": "+", "fontSize": 15, "color": "#333", "align": "center", "baseline": "middle", "dx": 11, "dy": 58}, "encoding": {}}
  ]},
 {"width": 1141, "height": 138, "view": {"fill": "white", "stroke": "#a9a9a9"},
  "layer": [
   {"data": {"name": "sig"}, "transform": [{"filter": "datum.c == 2"}], "mark": {"type": "area", "color": "#616161", "stroke": "#262626", "strokeWidth": 1.2},
    "encoding": {
     "x": {"field": "t", "type": "quantitative", "title": null, "scale": {"domain": [0, 31.82], "nice": false, "zero": false},
       "axis": {"orient": "top", "title": null, "tickCount": 200, "values": [0,0.5,1,1.5,2,2.5,3,3.5,4,4.5,5,5.5,6,6.5,7,7.5,8,8.5,9,9.5,10,10.5,11,11.5,12,12.5,13,13.5,14,14.5,15,15.5,16,16.5,17,17.5,18,18.5,19,19.5,20,20.5,21,21.5,22,22.5,23,23.5,24,24.5,25,25.5,26,26.5,27,27.5,28,28.5,29,29.5,30,30.5,31,31.5],
         "grid": true, "gridColor": "#c2c2c2", "gridWidth": 1.5, "domain": false, "ticks": false, "labels": false}},
     "y": {"field": "u", "type": "quantitative", "title": null, "scale": {"domain": [-0.548, 0.548], "nice": false, "zero": false},
       "axis": {"orient": "left", "offset": 48, "title": null, "tickCount": 20, "values": [-0.5, -0.25, 0, 0.25, 0.5], "format": "~g", "domain": true, "domainColor": "#8a8a8a", "domainWidth": 1.5,
         "ticks": true, "tickSize": -5, "tickColor": "#777", "labelAlign": "left", "labelBaseline": "middle", "labelPadding": -3, "labelFontSize": 9, "labelColor": "#555", "labelOverlap": false, "labelFlush": false,
         "grid": true, "gridColor": {"condition": {"test": "abs(datum.value) == 0.25", "value": "#e2e2e2"}, "value": "transparent"}, "gridDash": [2, 3]}},
     "y2": {"field": "l"}
    }},
   {"data": {"name": "spk"}, "transform": [{"filter": "datum.c == 2"}], "mark": {"type": "rule", "color": "#3c3c3c", "strokeWidth": 1},
    "encoding": {"x": {"field": "t", "type": "quantitative", "title": null}, "y": {"field": "y", "type": "quantitative", "title": null}, "y2": {"field": "y2"}}},
   {"data": {"name": "sig"}, "transform": [{"filter": "datum.c == 2"}], "mark": {"type": "area", "color": "#4a4a4a"},
    "encoding": {"x": {"field": "t", "type": "quantitative", "title": null}, "y": {"field": "a", "type": "quantitative", "title": null}, "y2": {"field": "b"}}}
  ]},
 {"width": 100, "height": 138, "data": {"name": "lab"}, "transform": [{"filter": "datum.c == 3"}],
  "layer": [
   {"mark": {"type": "text", "lineBreak": "\n", "fontSize": 10, "lineHeight": 13, "color": "#444", "align": "center", "baseline": "middle", "dx": -1, "dy": -16}, "encoding": {"text": {"field": "label"}}},
   {"mark": {"type": "text", "text": "Set Scale", "fontSize": 10, "color": "#444", "align": "center", "baseline": "middle", "dx": -3, "dy": 43}, "encoding": {}},
   {"mark": {"type": "point", "shape": "square", "size": 361, "filled": true, "fill": "#f6f6f6", "stroke": "#555", "strokeWidth": 1.2, "opacity": 1, "xOffset": -17, "yOffset": 58}, "encoding": {}},
   {"mark": {"type": "point", "shape": "square", "size": 361, "filled": true, "fill": "#f6f6f6", "stroke": "#555", "strokeWidth": 1.2, "opacity": 1, "xOffset": 11, "yOffset": 58}, "encoding": {}},
   {"mark": {"type": "text", "text": "−", "fontSize": 15, "color": "#333", "align": "center", "baseline": "middle", "dx": -17, "dy": 58}, "encoding": {}},
   {"mark": {"type": "text", "text": "+", "fontSize": 15, "color": "#333", "align": "center", "baseline": "middle", "dx": 11, "dy": 58}, "encoding": {}}
  ]},
 {"width": 1141, "height": 138, "view": {"fill": "white", "stroke": "#a9a9a9"},
  "layer": [
   {"data": {"name": "sig"}, "transform": [{"filter": "datum.c == 3"}], "mark": {"type": "area", "color": "#616161", "stroke": "#262626", "strokeWidth": 1.2},
    "encoding": {
     "x": {"field": "t", "type": "quantitative", "title": null, "scale": {"domain": [0, 31.82], "nice": false, "zero": false},
       "axis": {"orient": "top", "title": null, "tickCount": 200, "values": [0,0.5,1,1.5,2,2.5,3,3.5,4,4.5,5,5.5,6,6.5,7,7.5,8,8.5,9,9.5,10,10.5,11,11.5,12,12.5,13,13.5,14,14.5,15,15.5,16,16.5,17,17.5,18,18.5,19,19.5,20,20.5,21,21.5,22,22.5,23,23.5,24,24.5,25,25.5,26,26.5,27,27.5,28,28.5,29,29.5,30,30.5,31,31.5],
         "grid": true, "gridColor": "#c2c2c2", "gridWidth": 1.5, "domain": false, "ticks": false, "labels": false}},
     "y": {"field": "u", "type": "quantitative", "title": null, "scale": {"domain": [-0.548, 0.548], "nice": false, "zero": false},
       "axis": {"orient": "left", "offset": 48, "title": null, "tickCount": 20, "values": [-0.5, -0.25, 0, 0.25, 0.5], "format": "~g", "domain": true, "domainColor": "#8a8a8a", "domainWidth": 1.5,
         "ticks": true, "tickSize": -5, "tickColor": "#777", "labelAlign": "left", "labelBaseline": "middle", "labelPadding": -3, "labelFontSize": 9, "labelColor": "#555", "labelOverlap": false, "labelFlush": false,
         "grid": true, "gridColor": {"condition": {"test": "abs(datum.value) == 0.25", "value": "#e2e2e2"}, "value": "transparent"}, "gridDash": [2, 3]}},
     "y2": {"field": "l"}
    }},
   {"data": {"name": "spk"}, "transform": [{"filter": "datum.c == 3"}], "mark": {"type": "rule", "color": "#3c3c3c", "strokeWidth": 1},
    "encoding": {"x": {"field": "t", "type": "quantitative", "title": null}, "y": {"field": "y", "type": "quantitative", "title": null}, "y2": {"field": "y2"}}},
   {"data": {"name": "sig"}, "transform": [{"filter": "datum.c == 3"}], "mark": {"type": "area", "color": "#4a4a4a"},
    "encoding": {"x": {"field": "t", "type": "quantitative", "title": null}, "y": {"field": "a", "type": "quantitative", "title": null}, "y2": {"field": "b"}}}
  ]},
 {"width": 100, "height": 138, "data": {"name": "lab"}, "transform": [{"filter": "datum.c == 4"}],
  "layer": [
   {"mark": {"type": "text", "lineBreak": "\n", "fontSize": 10, "lineHeight": 13, "color": "#444", "align": "center", "baseline": "middle", "dx": -1, "dy": -16}, "encoding": {"text": {"field": "label"}}},
   {"mark": {"type": "text", "text": "Set Scale", "fontSize": 10, "color": "#444", "align": "center", "baseline": "middle", "dx": -3, "dy": 43}, "encoding": {}},
   {"mark": {"type": "point", "shape": "square", "size": 361, "filled": true, "fill": "#f6f6f6", "stroke": "#555", "strokeWidth": 1.2, "opacity": 1, "xOffset": -17, "yOffset": 58}, "encoding": {}},
   {"mark": {"type": "point", "shape": "square", "size": 361, "filled": true, "fill": "#f6f6f6", "stroke": "#555", "strokeWidth": 1.2, "opacity": 1, "xOffset": 11, "yOffset": 58}, "encoding": {}},
   {"mark": {"type": "text", "text": "−", "fontSize": 15, "color": "#333", "align": "center", "baseline": "middle", "dx": -17, "dy": 58}, "encoding": {}},
   {"mark": {"type": "text", "text": "+", "fontSize": 15, "color": "#333", "align": "center", "baseline": "middle", "dx": 11, "dy": 58}, "encoding": {}}
  ]},
 {"width": 1141, "height": 138, "view": {"fill": "white", "stroke": "#a9a9a9"},
  "layer": [
   {"data": {"name": "sig"}, "transform": [{"filter": "datum.c == 4"}], "mark": {"type": "area", "color": "#616161", "stroke": "#262626", "strokeWidth": 1.2},
    "encoding": {
     "x": {"field": "t", "type": "quantitative", "title": null, "scale": {"domain": [0, 31.82], "nice": false, "zero": false},
       "axis": {"orient": "top", "title": null, "tickCount": 200, "values": [0,0.5,1,1.5,2,2.5,3,3.5,4,4.5,5,5.5,6,6.5,7,7.5,8,8.5,9,9.5,10,10.5,11,11.5,12,12.5,13,13.5,14,14.5,15,15.5,16,16.5,17,17.5,18,18.5,19,19.5,20,20.5,21,21.5,22,22.5,23,23.5,24,24.5,25,25.5,26,26.5,27,27.5,28,28.5,29,29.5,30,30.5,31,31.5],
         "grid": true, "gridColor": "#c2c2c2", "gridWidth": 1.5, "domain": false, "ticks": false, "labels": false}},
     "y": {"field": "u", "type": "quantitative", "title": null, "scale": {"domain": [-0.548, 0.548], "nice": false, "zero": false},
       "axis": {"orient": "left", "offset": 48, "title": null, "tickCount": 20, "values": [-0.5, -0.25, 0, 0.25, 0.5], "format": "~g", "domain": true, "domainColor": "#8a8a8a", "domainWidth": 1.5,
         "ticks": true, "tickSize": -5, "tickColor": "#777", "labelAlign": "left", "labelBaseline": "middle", "labelPadding": -3, "labelFontSize": 9, "labelColor": "#555", "labelOverlap": false, "labelFlush": false,
         "grid": true, "gridColor": {"condition": {"test": "abs(datum.value) == 0.25", "value": "#e2e2e2"}, "value": "transparent"}, "gridDash": [2, 3]}},
     "y2": {"field": "l"}
    }},
   {"data": {"name": "spk"}, "transform": [{"filter": "datum.c == 4"}], "mark": {"type": "rule", "color": "#3c3c3c", "strokeWidth": 1},
    "encoding": {"x": {"field": "t", "type": "quantitative", "title": null}, "y": {"field": "y", "type": "quantitative", "title": null}, "y2": {"field": "y2"}}},
   {"data": {"name": "sig"}, "transform": [{"filter": "datum.c == 4"}], "mark": {"type": "area", "color": "#4a4a4a"},
    "encoding": {"x": {"field": "t", "type": "quantitative", "title": null}, "y": {"field": "a", "type": "quantitative", "title": null}, "y2": {"field": "b"}}}
  ]}
]
}
